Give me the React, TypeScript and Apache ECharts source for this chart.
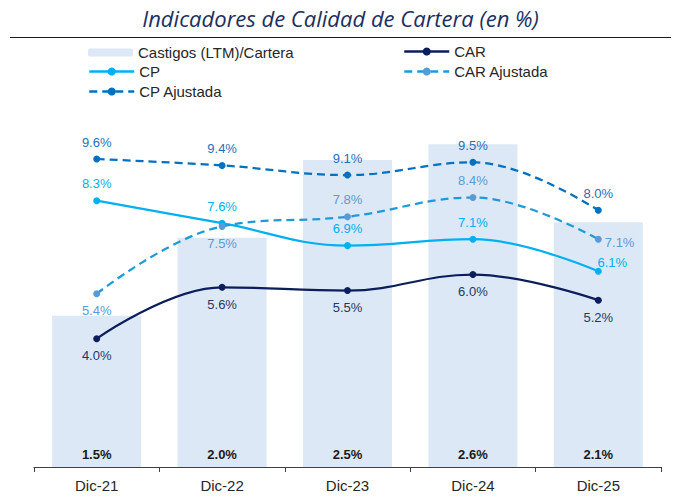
import React, { useEffect, useRef } from "react";
import * as echarts from "echarts";

const categories = ["Dic-21", "Dic-22", "Dic-23", "Dic-24", "Dic-25"];
const castigos = [1.5, 2.0, 2.5, 2.6, 2.1];
const car = [4.0, 5.6, 5.5, 6.0, 5.2];
const cp = [8.3, 7.6, 6.9, 7.1, 6.1];
const carAjustada = [5.4, 7.5, 7.8, 8.4, 7.1];
const cpAjustada = [9.6, 9.4, 9.1, 9.5, 8.0];

const FONT = "'Liberation Sans', Arial, sans-serif";
const fmt = (p: any) => Number(p.value).toFixed(1) + "%";

export default function App() {
  const ref = useRef<HTMLDivElement>(null);
  useEffect(() => {
    if (!ref.current) return;
    const chart = echarts.init(ref.current, undefined, { renderer: "svg" });

    const lineLabel = (color: string, position: string) => ({
      show: true,
      position,
      distance: 7,
      formatter: fmt,
      color,
      fontSize: 13,
      fontFamily: FONT,
    });

    const carAjData = carAjustada.map((v, i) => {
      if (i >= 2 && i <= 3) return { value: v, label: { position: "top" } };
      if (i === 4) return { value: v, label: { position: "right", distance: 3, offset: [0, 3] } };
      return { value: v };
    });
    const cpData = cp.map((v, i) =>
      i === 4 ? { value: v, label: { offset: [14, 8] } } : { value: v }
    );

    const legendBase = {
      itemWidth: 45,
      itemHeight: 8,
      itemGap: 6,
      padding: 0,
      textStyle: { fontSize: 15, fontFamily: FONT, color: "#262626" },
      selectedMode: false,
    };
    const lineLegend = { ...legendBase, itemHeight: 10 };
    const dash = [8, 5];

    chart.setOption({
      animation: false,
      backgroundColor: "#ffffff",
      graphic: [
        {
          type: "text",
          left: "center",
          top: 7,
          style: {
            text: "Indicadores de Calidad de Cartera (en %)",
            fontSize: 22,
            fontStyle: "italic",
            fontFamily: "'Open Sans', sans-serif",
            fill: "#1B2F5E",
          },
        },
        {
          type: "line",
          shape: { x1: 10, y1: 37.5, x2: 671, y2: 37.5 },
          style: { stroke: "#1a1a1a", lineWidth: 1 },
        },
      ],
      legend: [
        { ...legendBase, left: 88, top: 45, data: ["Castigos (LTM)/Cartera"] },
        {
          ...lineLegend, left: 403, top: 44,
          data: [{ name: "CAR", lineStyle: { width: 2.5 } }],
        },
        {
          ...lineLegend, left: 88, top: 64,
          data: [{ name: "CP", lineStyle: { width: 2.5 } }],
        },
        {
          ...lineLegend, left: 403, top: 64,
          data: [{ name: "CAR Ajustada", lineStyle: { width: 2.5, type: dash } }],
        },
        {
          ...lineLegend, left: 88, top: 84,
          data: [{ name: "CP Ajustada", lineStyle: { width: 2.5, type: dash } }],
        },
      ],
      grid: { left: 34, right: 20, top: 82, bottom: 30 },
      xAxis: {
        type: "category",
        data: categories,
        boundaryGap: true,
        axisLine: { lineStyle: { color: "#404040", width: 1 } },
        axisTick: { show: true, length: 5, lineStyle: { color: "#404040" } },
        axisLabel: { fontSize: 15, fontFamily: FONT, color: "#262626", margin: 11 },
      },
      yAxis: [
        { type: "value", min: 0, max: 12, show: false, splitLine: { show: false } },
        { type: "value", min: 0.53, max: 3, show: false, splitLine: { show: false } },
      ],
      series: [
        {
          name: "Castigos (LTM)/Cartera",
          type: "bar",
          yAxisIndex: 1,
          data: castigos,
          barWidth: "71%",
          itemStyle: { color: "#DCE8F5" },
          z: 1,
          label: {
            show: true,
            position: "insideBottom",
            distance: 6,
            formatter: fmt,
            fontWeight: "bold",
            fontSize: 13,
            fontFamily: FONT,
            color: "#1a1a1a",
          },
        },
        {
          name: "CAR",
          type: "line",
          data: car,
          smooth: 0.4,
          symbol: "circle",
          symbolSize: 7,
          lineStyle: { color: "#0B1E5B", width: 2.25 },
          itemStyle: { color: "#0B1E5B" },
          label: lineLabel("#1F3864", "bottom"),
          z: 5,
        },
        {
          name: "CP",
          type: "line",
          data: cpData,
          smooth: 0.4,
          symbol: "circle",
          symbolSize: 7,
          lineStyle: { color: "#00B0F0", width: 2.25 },
          itemStyle: { color: "#00B0F0" },
          label: lineLabel("#00B0F0", "top"),
          z: 5,
        },
        {
          name: "CAR Ajustada",
          type: "line",
          data: carAjData,
          smooth: 0.4,
          symbol: "circle",
          symbolSize: 7,
          lineStyle: { color: "#1F9AD8", width: 2.25, type: dash },
          itemStyle: { color: "#5B9BD5" },
          label: lineLabel("#5B9BD5", "bottom"),
          z: 5,
        },
        {
          name: "CP Ajustada",
          type: "line",
          data: cpAjustada,
          smooth: 0.4,
          symbol: "circle",
          symbolSize: 7,
          lineStyle: { color: "#0070C0", width: 2.25, type: dash },
          itemStyle: { color: "#0070C0" },
          label: lineLabel("#1F6FB8", "top"),
          z: 5,
        },
      ],
    });
    return () => chart.dispose();
  }, []);

  return <div ref={ref} style={{ width: 681, height: 497, position: "absolute", left: 0, top: 0 }} />;
}
